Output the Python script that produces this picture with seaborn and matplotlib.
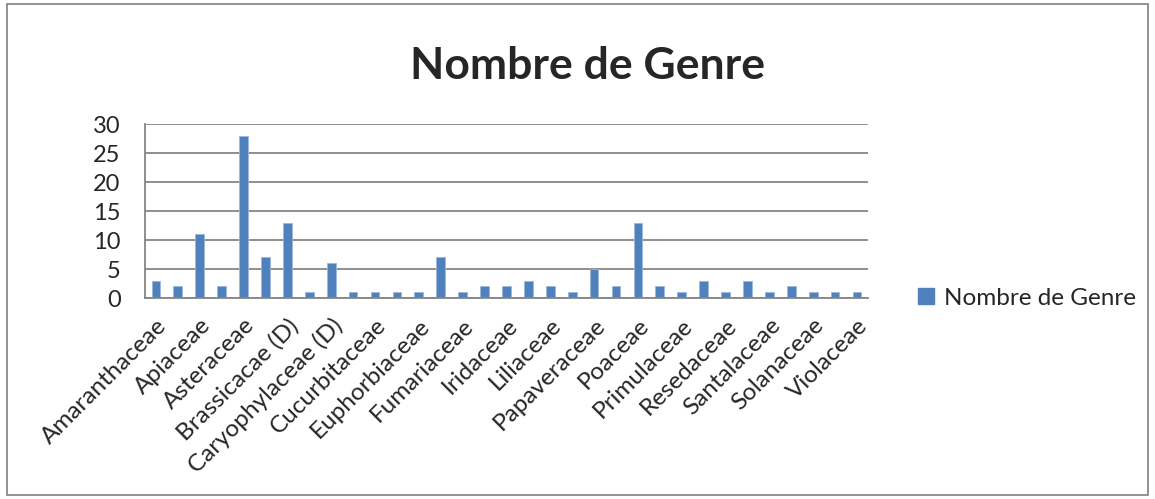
import matplotlib
matplotlib.use("Agg")
import matplotlib.pyplot as plt
import matplotlib.patches as mpatches
import pandas as pd
import seaborn as sns

# families in the order of the source sheet; only every other one is labelled
families = [
    "Amaranthaceae", "Anacardiaceae", "Apiaceae", "Arecaceae", "Asteraceae",
    "Boraginaceae", "Brassicacae (D)", "Capparaceae", "Caryophylaceae (D)",
    "Cistaceae", "Cucurbitaceae", "Cyperaceae", "Euphorbiaceae", "Fabaceae",
    "Fumariaceae", "Geraniaceae", "Iridaceae", "Lamiaceae", "Liliaceae",
    "Malvaceae", "Papaveraceae", "Plantaginaceae", "Poaceae", "Polygonaceae",
    "Primulaceae", "Ranunculaceae", "Resedaceae", "Rubiaceae", "Santalaceae",
    "Scrophulariaceae", "Solanaceae", "Thymelaeaceae", "Violaceae",
]
genres = [3, 2, 11, 2, 28, 7, 13, 1, 6, 1, 1, 1, 1, 7, 1, 2, 2,
          3, 2, 1, 5, 2, 13, 2, 1, 3, 1, 3, 1, 2, 1, 1, 1]
series_name = "Nombre de Genre"

df = pd.DataFrame({"Famille": families, series_name: genres})

sns.set_style("white")
plt.rcParams["font.family"] = ["Lato", "DejaVu Sans"]

bar_color = "#4F81BD"
grid_color = "#868686"

fig = plt.figure(figsize=(11.55, 4.99), dpi=100)
ax = fig.add_axes([0.1255, 0.4028, 0.626, 0.3487])

sns.barplot(data=df, x="Famille", y=series_name, color=bar_color,
            width=0.4, saturation=1, edgecolor="#9bb7db", linewidth=0.6, ax=ax)

ax.set_ylim(0, 30)
ax.set_xlim(-0.5, len(families) - 0.5)
ax.set_yticks(range(0, 31, 5))
ax.yaxis.grid(True, color=grid_color, linewidth=1.3)
ax.set_axisbelow(True)

# labels on every other category, tick marks on category boundaries
ax.set_xticks(range(0, len(families), 2))
ax.set_xticklabels(families[::2], rotation=45, ha="right",
                   rotation_mode="anchor", fontsize=17.5)
ax.set_xticks([i - 0.5 for i in range(len(families) + 1)], minor=True)
ax.tick_params(axis="x", which="major", length=0, pad=12)
ax.tick_params(axis="x", which="minor", length=6, color=grid_color, width=1.2)
ax.tick_params(axis="y", length=6.5, color=grid_color, width=1.2,
               labelsize=17, pad=11)
ax.set_xlabel("")
ax.set_ylabel("")

for side in ["top", "right"]:
    ax.spines[side].set_visible(False)
ax.spines["left"].set_color(grid_color)
ax.spines["bottom"].set_color(grid_color)
ax.spines["left"].set_linewidth(1.3)
ax.spines["bottom"].set_linewidth(1.3)

fig.text(0.509, 0.868, "Nombre de Genre", ha="center", va="center",
         fontsize=32, fontweight="bold")

handle = mpatches.Patch(color=bar_color, label=series_name)
fig.legend(handles=[handle], loc="center left", bbox_to_anchor=(0.776, 0.402),
           frameon=False, fontsize=17.5, handlelength=0.65, handleheight=0.65,
           handletextpad=0.4)

fig.patches.append(mpatches.Rectangle((0.006, 0.008), 0.988, 0.984,
                                      transform=fig.transFigure, fill=False,
                                      edgecolor="#7f7f7f", linewidth=1.2))

fig.savefig("out.png", dpi=100)
